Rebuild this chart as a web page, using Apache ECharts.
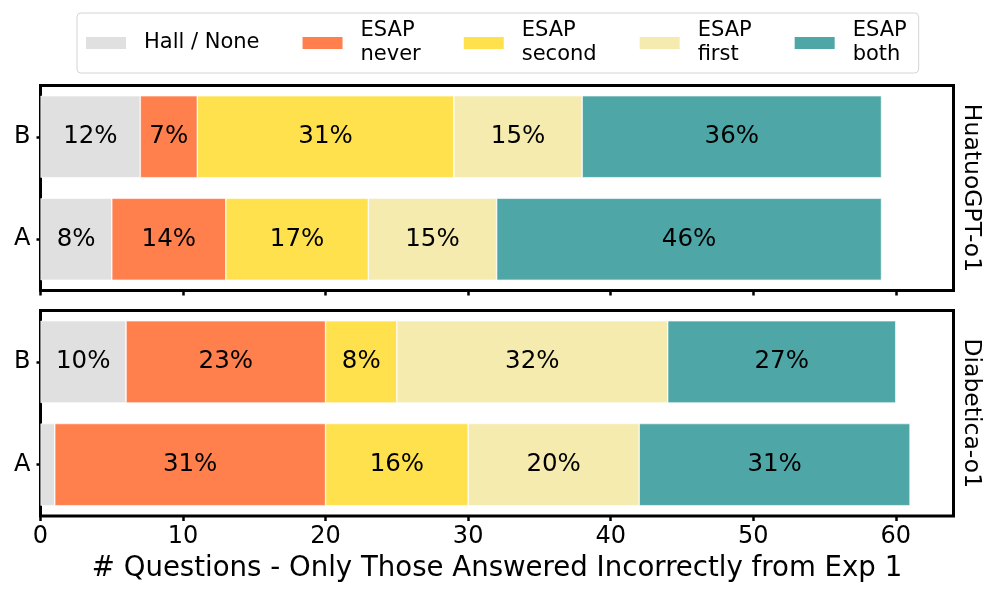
<!DOCTYPE html>
<html>
<head>
<meta charset="utf-8">
<script src="https://cdn.jsdelivr.net/npm/echarts@6/dist/echarts.min.js"></script>
<style>
html,body{margin:0;padding:0;background:#fff;}
#chart{width:996px;height:598px;}
</style>
</head>
<body>
<div id="chart"></div>
<script>
// ---- data ----
const categories = ['A', 'B'];
const seriesNames = ['Hall / None', 'ESAP\nnever', 'ESAP\nsecond', 'ESAP\nfirst', 'ESAP\nboth'];
const panelNames = ['HuatuoGPT-o1', 'Diabetica-o1'];
const huatuoHall   = [5, 7];
const huatuoNever  = [8, 4];
const huatuoSecond = [10, 18];
const huatuoFirst  = [9, 9];
const huatuoBoth   = [27, 21];
const diabeticaHall   = [1, 6];
const diabeticaNever  = [19, 14];
const diabeticaSecond = [10, 5];
const diabeticaFirst  = [12, 19];
const diabeticaBoth   = [19, 16];
const xTicks = [0, 10, 20, 30, 40, 50, 60];
const xMax = 64.05;

const colors = ['#e0e0e0', '#ff7f4d', '#ffe14d', '#f5ebae', '#4ea6a6'];
const FONT = 'DejaVu Sans';

const panels = [
  [huatuoHall, huatuoNever, huatuoSecond, huatuoFirst, huatuoBoth],
  [diabeticaHall, diabeticaNever, diabeticaSecond, diabeticaFirst, diabeticaBoth]
];

const grids = [
  {left: 40.5, width: 913, top: 85.5, height: 205},
  {left: 40.5, width: 913, top: 310.5, height: 205.5}
];

const xAxes = grids.map((g, i) => ({
  type: 'value', gridIndex: i, min: 0, max: xMax,
  splitLine: {show: false},
  axisLine: {show: false},
  axisTick: {show: true, length: 5, lineStyle: {color: '#000', width: 2.5}, customValues: xTicks},
  axisLabel: {show: i === 1, customValues: xTicks, fontSize: 24, color: '#000', fontFamily: FONT, margin: 9},
  name: i === 1 ? '# Questions - Only Those Answered Incorrectly from Exp 1' : '',
  nameLocation: 'middle', nameGap: 39,
  nameTextStyle: {fontSize: 27.6, color: '#000', fontFamily: FONT}
}));

const yAxes = [];
grids.forEach((g, i) => {
  yAxes.push({
    type: 'category', gridIndex: i, data: categories,
    axisLine: {show: false},
    axisTick: {show: true, alignWithLabel: true, length: 4, lineStyle: {color: '#000', width: 2.5}},
    axisLabel: {fontSize: 24, color: '#000', fontFamily: FONT, margin: 10},
    splitLine: {show: false}
  });
});
grids.forEach((g, i) => {
  yAxes.push({
    type: 'category', gridIndex: i, data: categories, position: 'right',
    axisLine: {show: false}, axisTick: {show: false}, axisLabel: {show: false},
    name: panelNames[i], nameLocation: 'middle', nameRotate: -90, nameGap: 6,
    nameTextStyle: {fontSize: 23.5, color: '#000', fontFamily: FONT}
  });
});

const series = [];
panels.forEach((arrs, p) => {
  const totals = categories.map((c, k) => arrs.reduce((s, a) => s + a[k], 0));
  arrs.forEach((arr, si) => {
    series.push({
      type: 'bar', name: seriesNames[si], stack: 'p' + p,
      xAxisIndex: p, yAxisIndex: p,
      data: arr, barCategoryGap: '20%',
      itemStyle: {color: colors[si], borderColor: '#fff', borderWidth: 0.6},
      label: {
        show: true, position: 'inside', color: '#000', fontSize: 24.5, fontFamily: FONT,
        formatter: (prm) => {
          const pct = prm.value / totals[prm.dataIndex] * 100;
          return pct >= 5 ? Math.round(pct) + '%' : '';
        }
      },
      emphasis: {disabled: true}
    });
  });
});

const chart = echarts.init(document.getElementById('chart'), null, {renderer: 'canvas'});
chart.setOption({
  animation: false,
  color: colors,
  grid: grids.map(g => Object.assign({show: true, borderColor: '#000', borderWidth: 3, backgroundColor: 'transparent'}, g)),
  legend: {
    data: seriesNames,
    left: 77, top: 13,
    orient: 'horizontal',
    icon: 'rect', itemWidth: 42, itemHeight: 14, itemGap: 41,
    padding: [6, 12, 6, 7],
    borderColor: '#d4d4d4', borderWidth: 1, borderRadius: 4,
    textStyle: {fontSize: 21, color: '#000', fontFamily: FONT, lineHeight: 24, padding: [0, 0, 0, 12]},
    selectedMode: false
  },
  xAxis: xAxes,
  yAxis: yAxes,
  series: series
});
</script>
</body>
</html>
